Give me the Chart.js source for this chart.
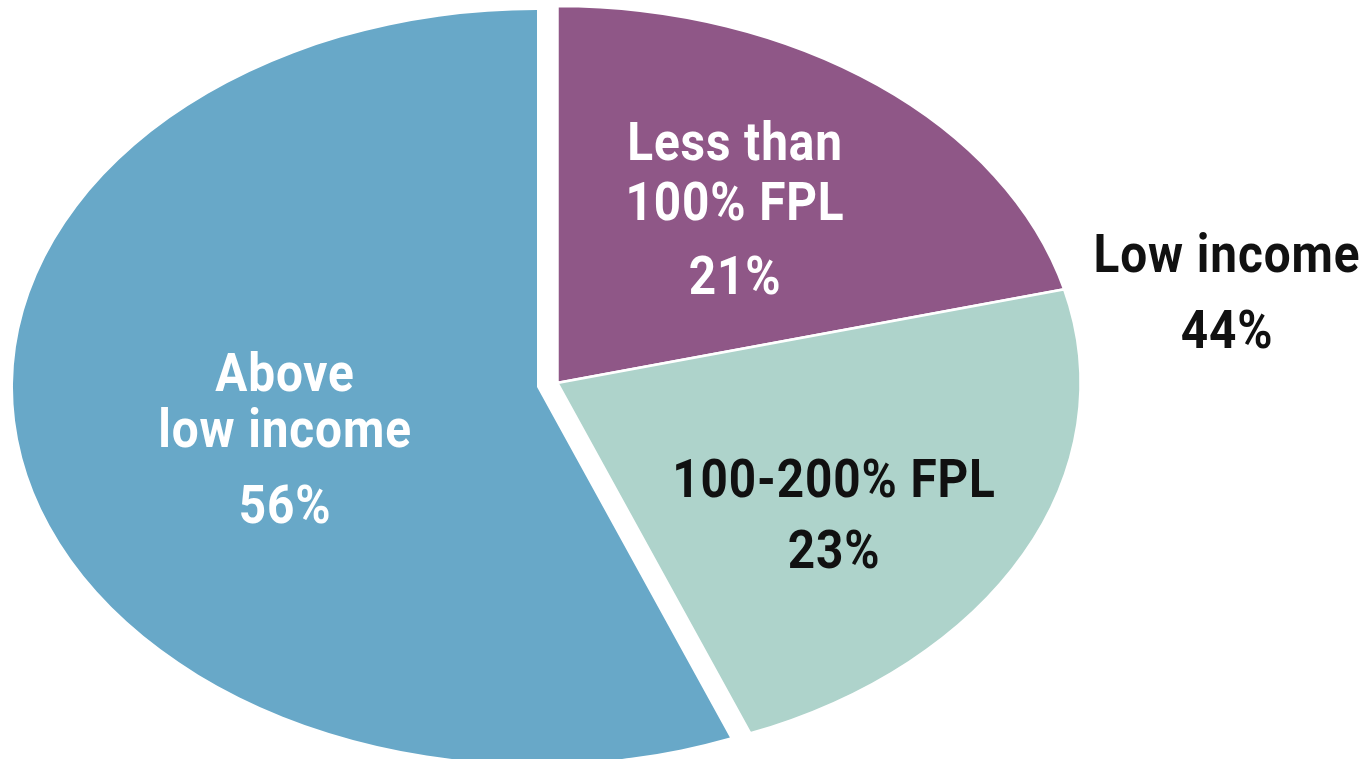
<!DOCTYPE html>
<html>
<head>
<meta charset="utf-8">
<script src="https://cdn.jsdelivr.net/npm/chart.js@4"></script>
<style>
  html, body { margin: 0; padding: 0; background: #fff; }
  canvas { display: block; }
</style>
</head>
<body>
<canvas id="chart" width="1367" height="759"></canvas>
<script>
// slices, clockwise from 12 o'clock
const categories = ['Less than 100% FPL', '100-200% FPL', 'Above low income'];
const shares = [21, 23, 56];
const sliceColors = ['#8f5787', '#aed3cb', '#68a8c8'];

// text printed on the picture
const sliceLabels = [
  ['Less than', '100% FPL', '21%'],
  ['100-200% FPL', '23%'],
  ['Above', 'low income', '56%'],
];
const groupLabel = ['Low income', '44%'];

// the pie is drawn as an ellipse, the two low income slices pulled out a bit
const STRETCH = 1.39;
const CENTER_X = 537;
const groupShift = { x: 20, y: -4 };
const pulled = [true, true, false];

const FONT = 'bold 53px Roboto, "Liberation Sans", sans-serif';
const CONDENSE = 0.9;

const ellipsePie = {
  id: 'ellipsePie',
  beforeDatasetDraw(chart, args) {
    const ctx = chart.ctx;
    args.meta.data.forEach((arc, i) => {
      const dx = pulled[i] ? groupShift.x : 0;
      const dy = pulled[i] ? groupShift.y : 0;
      ctx.save();
      ctx.translate(CENTER_X + dx, arc.y + dy);
      ctx.scale(STRETCH, 1);
      ctx.translate(-arc.x, -arc.y);
      arc.draw(ctx, chart.chartArea);
      ctx.restore();
    });
    return false;
  },
  afterDraw(chart) {
    const ctx = chart.ctx;
    // [x, first baseline, line gaps, colour]
    const spots = [
      [735, 160, [60, 74], '#fff'],
      [834, 497, [71], '#111'],
      [285, 391, [56, 76], '#fff'],
    ];
    const drawLines = (lines, x, y, gaps) => {
      let yy = y;
      lines.forEach((t, k) => {
        ctx.save();
        ctx.translate(x, yy);
        ctx.scale(CONDENSE, 1);
        ctx.fillText(t, 0, 0);
        ctx.restore();
        yy += gaps[k] || 0;
      });
    };
    ctx.save();
    ctx.font = FONT;
    ctx.letterSpacing = '1px';
    ctx.textAlign = 'center';
    ctx.textBaseline = 'alphabetic';
    sliceLabels.forEach((lines, i) => {
      const s = spots[i];
      ctx.fillStyle = s[3];
      drawLines(lines, s[0], s[1], s[2]);
    });
    ctx.fillStyle = '#111';
    drawLines(groupLabel, 1227, 272, [76]);
    ctx.restore();
  }
};

new Chart(document.getElementById('chart'), {
  type: 'pie',
  data: {
    labels: categories,
    datasets: [{
      data: shares,
      backgroundColor: sliceColors,
      borderColor: '#fff',
      borderWidth: [2.5, 2.5, 0],
    }]
  },
  options: {
    responsive: false,
    animation: false,
    radius: 377,
    layout: { padding: { top: 15, bottom: 0, left: 0, right: 0 } },
    plugins: {
      legend: { display: false },
      tooltip: { enabled: false },
    }
  },
  plugins: [ellipsePie]
});
</script>
</body>
</html>
